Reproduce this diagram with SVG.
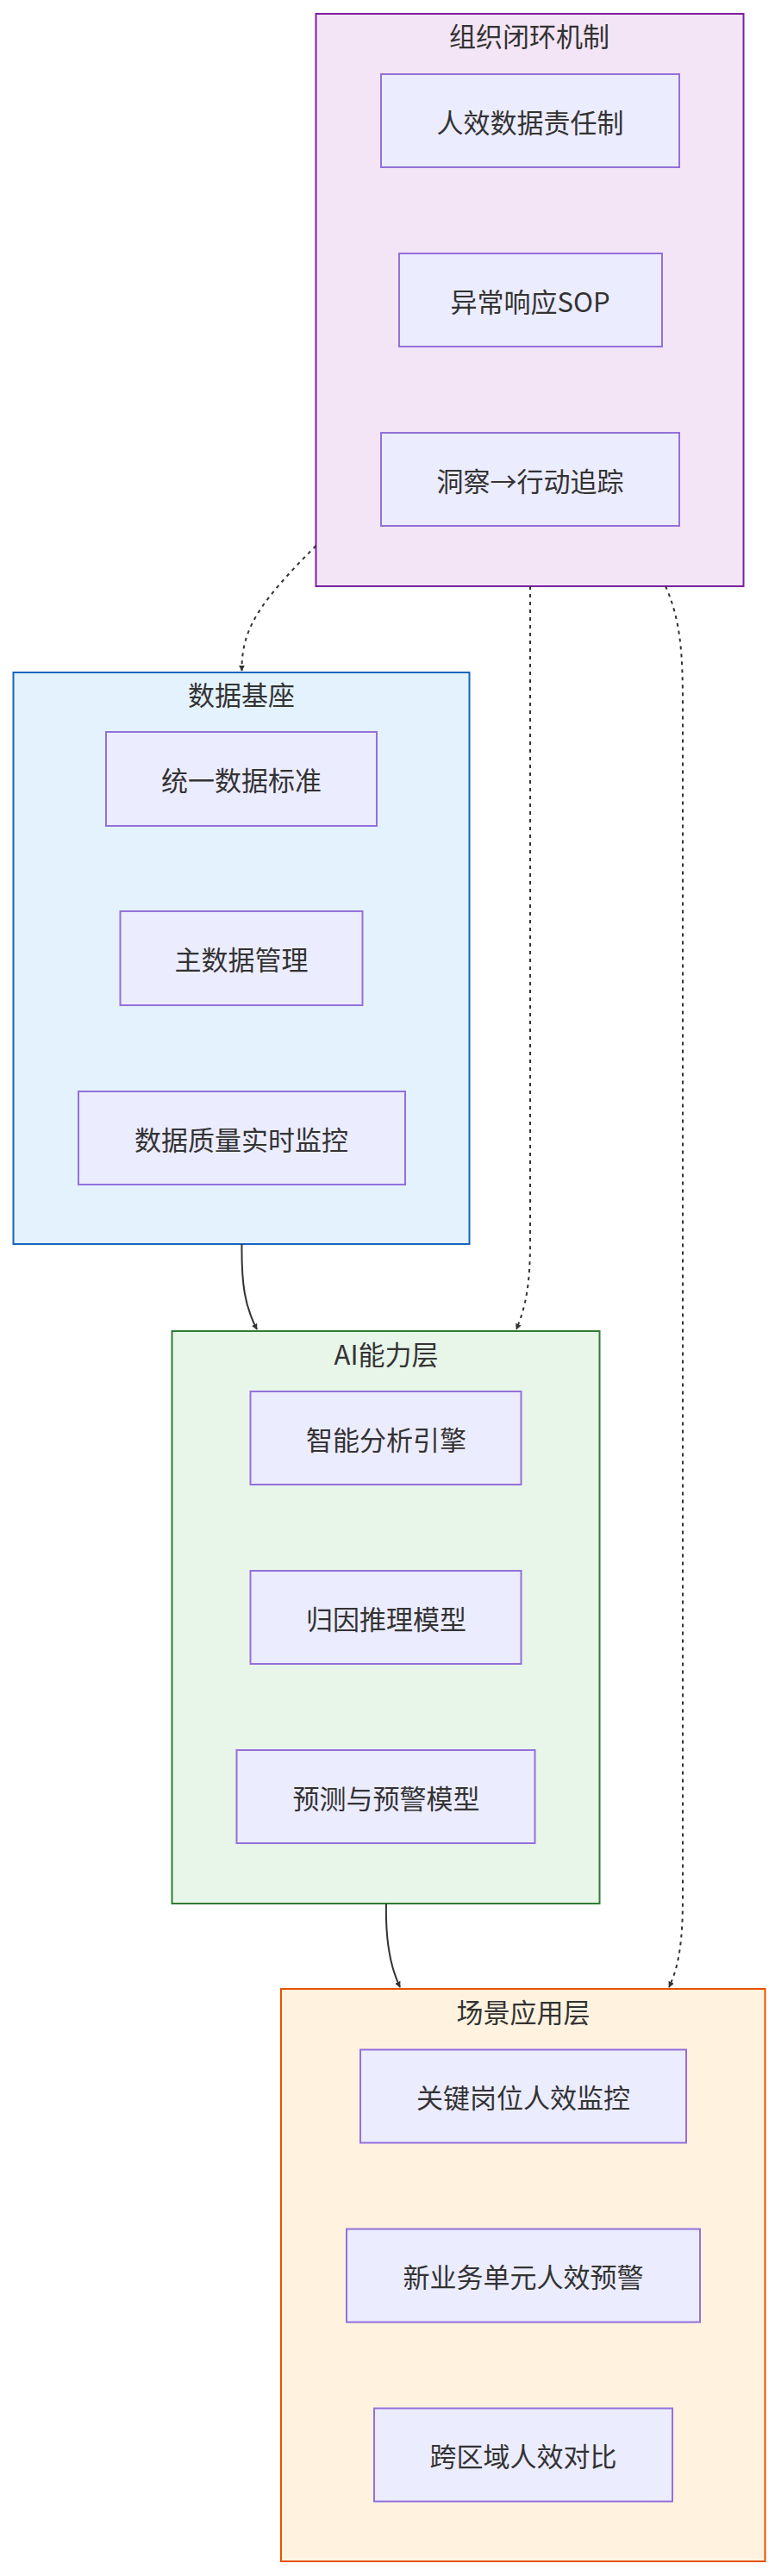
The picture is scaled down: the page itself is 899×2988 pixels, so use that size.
<svg xmlns="http://www.w3.org/2000/svg" width="899" height="2988" viewBox="0 0 899 2988">
<defs>
<style>
.t{font-family:"Noto Sans CJK SC","Liberation Sans",sans-serif;font-size:31px;fill:#333;text-anchor:middle;dominant-baseline:central}
.n{fill:#ECECFF;stroke:#9370DB;stroke-width:2}
.e{fill:none;stroke:#333;stroke-width:2}
.d{stroke-dasharray:4 5}
</style>
<marker id="a" viewBox="0 0 10 10" refX="9" refY="5" markerWidth="7" markerHeight="7" orient="auto-start-reverse" markerUnits="userSpaceOnUse"><path d="M0,0L10,5L0,10z" fill="#333"/></marker>
</defs>
<g id="org">
<rect x="366.5" y="16" width="496" height="664" fill="#f3e5f5" stroke="#7b1fa2" stroke-width="2"/>
<text class="t" x="614" y="40">组织闭环机制</text>
</g>
<g id="o1"><rect class="n" x="442" y="86" width="346" height="108"/><text class="t" x="615" y="140">人效数据责任制</text></g>
<g id="o2"><rect class="n" x="463" y="294" width="305" height="108"/><text class="t" x="615" y="348">异常响应SOP</text></g>
<g id="o3"><rect class="n" x="442" y="502" width="346" height="108"/><text class="t" x="615" y="556">洞察→行动追踪</text></g>
<g id="base">
<rect x="15.5" y="780" width="529" height="663" fill="#e3f2fd" stroke="#1565c0" stroke-width="2"/>
<text class="t" x="280" y="804">数据基座</text>
</g>
<g id="b1"><rect class="n" x="123" y="849" width="314" height="109"/><text class="t" x="280" y="903">统一数据标准</text></g>
<g id="b2"><rect class="n" x="139.5" y="1057" width="281" height="109"/><text class="t" x="280" y="1111">主数据管理</text></g>
<g id="b3"><rect class="n" x="91" y="1266" width="379" height="108"/><text class="t" x="280" y="1320">数据质量实时监控</text></g>
<g id="ai">
<rect x="199.5" y="1544" width="496" height="664" fill="#e8f5e9" stroke="#2e7d32" stroke-width="2"/>
<text class="t" x="448" y="1569">AI能力层</text>
</g>
<g id="a1"><rect class="n" x="290.5" y="1614" width="314" height="108"/><text class="t" x="448" y="1668">智能分析引擎</text></g>
<g id="a2"><rect class="n" x="290.5" y="1822" width="314" height="108"/><text class="t" x="448" y="1876">归因推理模型</text></g>
<g id="a3"><rect class="n" x="274.5" y="2030" width="346" height="108"/><text class="t" x="448" y="2084">预测与预警模型</text></g>
<g id="scene">
<rect x="326" y="2307" width="561.5" height="664" fill="#fff3e0" stroke="#e65100" stroke-width="2"/>
<text class="t" x="607" y="2332">场景应用层</text>
</g>
<g id="s1"><rect class="n" x="418" y="2377.5" width="378" height="108"/><text class="t" x="607" y="2431">关键岗位人效监控</text></g>
<g id="s2"><rect class="n" x="402" y="2585.5" width="410" height="108"/><text class="t" x="607" y="2639">新业务单元人效预警</text></g>
<g id="s3"><rect class="n" x="434" y="2793.5" width="346" height="108"/><text class="t" x="607" y="2847">跨区域人效对比</text></g>
<g id="edges">
<path class="e d" d="M366.5,633 C300,700 280,730 280.5,778" marker-end="url(#a)"/>
<path class="e" d="M280.5,1443 C280,1490 284,1515 298,1542" marker-end="url(#a)"/>
<path class="e d" d="M615,680 L615,1440 C615,1490 610,1515 599,1542" marker-end="url(#a)"/>
<path class="e" d="M448,2208 C447,2250 452,2280 464,2305" marker-end="url(#a)"/>
<path class="e d" d="M772,680 C790,720 792,760 792,820 L792,2200 C792,2250 788,2280 776,2305" marker-end="url(#a)"/>
</g>
</svg>
